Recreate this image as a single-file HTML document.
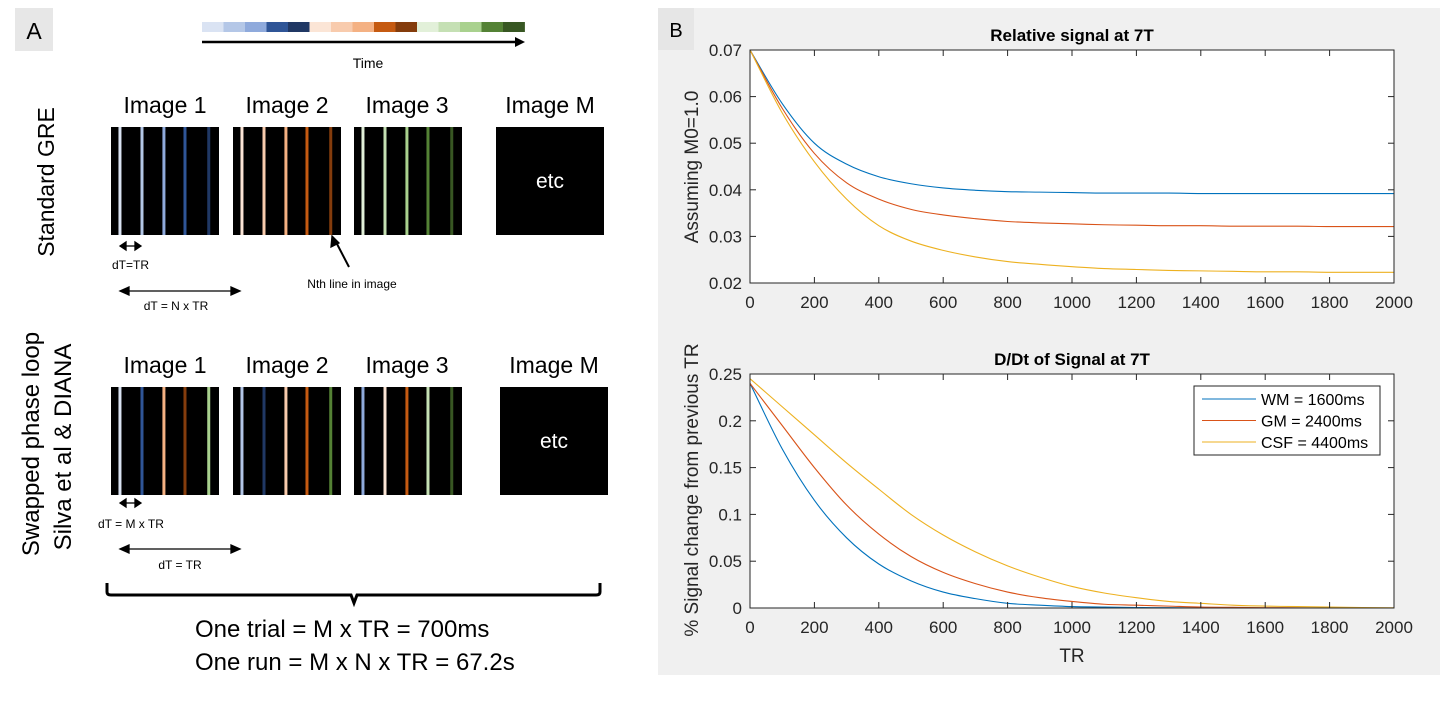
<!DOCTYPE html>
<html><head><meta charset="utf-8">
<style>
html,body{margin:0;padding:0;background:#fff;width:1440px;height:706px;overflow:hidden}
svg{display:block}
.cal,.hv{font-family:"Liberation Sans",sans-serif}
</style></head>
<body>
<svg id="root" width="1440" height="706" viewBox="0 0 1440 706" xmlns="http://www.w3.org/2000/svg">
<g id="panelA" class="cal">
  <rect x="15" y="8" width="38" height="43" fill="#e7e7e7"/>
  <text x="34" y="39" font-size="23" text-anchor="middle">A</text>
  <g id="colorbar"></g>
  <line x1="202" y1="42" x2="517" y2="42" stroke="#000" stroke-width="2.5"/>
  <polygon points="525,42 515,37 515,47" fill="#000"/>
  <text x="368" y="68" font-size="14" text-anchor="middle">Time</text>

  <text transform="translate(54,182) rotate(-90)" font-size="23" text-anchor="middle">Standard GRE</text>
  <text transform="translate(39,444) rotate(-90)" font-size="24" text-anchor="middle">Swapped phase loop</text>
  <text transform="translate(71,447) rotate(-90)" font-size="24" text-anchor="middle">Silva et al &amp; DIANA</text>
  <g id="images"></g>

  <text x="165" y="113" font-size="23" text-anchor="middle">Image 1</text>
  <text x="287" y="113" font-size="23" text-anchor="middle">Image 2</text>
  <text x="407" y="113" font-size="23" text-anchor="middle">Image 3</text>
  <text x="550" y="113" font-size="23" text-anchor="middle">Image M</text>
  <text x="165" y="373" font-size="23" text-anchor="middle">Image 1</text>
  <text x="287" y="373" font-size="23" text-anchor="middle">Image 2</text>
  <text x="407" y="373" font-size="23" text-anchor="middle">Image 3</text>
  <text x="554" y="373" font-size="23" text-anchor="middle">Image M</text>

  <rect x="496" y="127" width="108" height="108" fill="#000"/>
  <text x="550" y="188" font-size="21" fill="#fff" text-anchor="middle">etc</text>
  <rect x="500" y="387" width="108" height="108" fill="#000"/>
  <text x="554" y="448" font-size="21" fill="#fff" text-anchor="middle">etc</text>

  <g stroke="#000" stroke-width="1.3" fill="#000">
    <line x1="124" y1="246" x2="137" y2="246"/><polygon points="120,246 126,242 126,250"/><polygon points="141,246 135,242 135,250"/>
    <line x1="127" y1="291" x2="233" y2="291"/><polygon points="120,291 129,287 129,295"/><polygon points="240,291 231,287 231,295"/>
    <line x1="349" y1="267" x2="336" y2="242" stroke-width="2"/><polygon points="332,236 331,247 339,243"/>
    <line x1="124" y1="503" x2="137" y2="503"/><polygon points="120,503 126,499 126,507"/><polygon points="141,503 135,499 135,507"/>
    <line x1="127" y1="549" x2="233" y2="549"/><polygon points="120,549 129,545 129,553"/><polygon points="240,549 231,545 231,553"/>
  </g>
  <text x="112" y="269" font-size="12">dT=TR</text>
  <text x="176" y="310" font-size="12" text-anchor="middle">dT = N x TR</text>
  <text x="352" y="288" font-size="12" text-anchor="middle">Nth line in image</text>
  <text x="98" y="528" font-size="12">dT = M x TR</text>
  <text x="180" y="569" font-size="12" text-anchor="middle">dT = TR</text>

  <path d="M107,583 L107,592 Q107,595 111,595 L351,595 L354,603 L357,595 L596,595 Q600,595 600,592 L600,583" fill="none" stroke="#000" stroke-width="3"/>
  <text x="195" y="637" font-size="24">One trial = M x TR = 700ms</text>
  <text x="195" y="670" font-size="24">One run = M x N x TR = 67.2s</text>
</g>

<g id="panelB" class="hv">
  <rect x="658" y="8" width="782" height="667" fill="#f0f0f0"/>
  <rect x="658" y="8" width="36" height="42" fill="#e6e6e6"/>
  <text x="676" y="37" font-size="20" text-anchor="middle">B</text>
  <g id="chart1"></g>
  <g id="chart2"></g>
</g>
</svg>
<script>
// ---- chart data ----
const trValues = [0,100,200,300,400,500,600,700,800,900,1000,1100,1200,1300,1400,1500,1600,1700,1800,1900,2000];
const sigWM  = [0.0700,0.0585,0.0500,0.0455,0.0428,0.0413,0.0404,0.0399,0.0396,0.0395,0.0394,0.0393,0.0393,0.0393,0.0392,0.0392,0.0392,0.0392,0.0392,0.0392,0.0392];
const sigGM  = [0.0700,0.0575,0.0478,0.0415,0.0380,0.0358,0.0346,0.0338,0.0332,0.0329,0.0327,0.0325,0.0324,0.0323,0.0323,0.0322,0.0322,0.0322,0.0321,0.0321,0.0321];
const sigCSF = [0.0700,0.0565,0.0460,0.0380,0.0323,0.0290,0.0270,0.0256,0.0246,0.0240,0.0235,0.0231,0.0229,0.0227,0.0226,0.0225,0.0224,0.0224,0.0223,0.0223,0.0223];
const dWM  = [0.240,0.170,0.115,0.075,0.047,0.029,0.017,0.010,0.005,0.003,0.0015,0.001,0.0005,0.0003,0.0002,0.0001,0,0,0,0,0];
const dGM  = [0.240,0.195,0.150,0.110,0.079,0.055,0.038,0.026,0.017,0.011,0.007,0.004,0.003,0.002,0.001,0.0007,0.0004,0.0002,0.0001,0,0];
const dCSF = [0.245,0.215,0.185,0.155,0.127,0.100,0.078,0.060,0.045,0.033,0.023,0.016,0.011,0.007,0.005,0.003,0.002,0.0015,0.001,0.0005,0.0002];
const xTicks = [0,200,400,600,800,1000,1200,1400,1600,1800,2000];
const yTicks1 = [0.02,0.03,0.04,0.05,0.06,0.07];
const yTicks2 = [0,0.05,0.1,0.15,0.2,0.25];
const yTickLabels1 = ["0.02","0.03","0.04","0.05","0.06","0.07"];
const yTickLabels2 = ["0","0.05","0.1","0.15","0.2","0.25"];
const seriesNames = ["WM = 1600ms","GM = 2400ms","CSF = 4400ms"];
const seriesColors = ["#0072bd","#d95319","#edb120"];

const NS="http://www.w3.org/2000/svg";
function mk(tag, attrs, parent){const e=document.createElementNS(NS,tag);for(const k in attrs)e.setAttribute(k,attrs[k]);parent.appendChild(e);return e;}

function monotonePath(xs, ys){
  const n=xs.length, d=[], m=[];
  for(let i=0;i<n-1;i++) d.push((ys[i+1]-ys[i])/(xs[i+1]-xs[i]));
  m[0]=d[0]; m[n-1]=d[n-2];
  for(let i=1;i<n-1;i++){ m[i]=(d[i-1]*d[i]<=0)?0:(d[i-1]+d[i])/2; }
  for(let i=0;i<n-1;i++){
    if(d[i]===0){m[i]=0;m[i+1]=0;continue;}
    const a=m[i]/d[i], b=m[i+1]/d[i], s=a*a+b*b;
    if(s>9){const t=3/Math.sqrt(s);m[i]=t*a*d[i];m[i+1]=t*b*d[i];}
  }
  let p='M'+xs[0].toFixed(2)+','+ys[0].toFixed(2);
  for(let i=0;i<n-1;i++){
    const h=(xs[i+1]-xs[i])/3;
    p+='C'+(xs[i]+h).toFixed(2)+','+(ys[i]+m[i]*h).toFixed(2)+' '+(xs[i+1]-h).toFixed(2)+','+(ys[i+1]-m[i+1]*h).toFixed(2)+' '+xs[i+1].toFixed(2)+','+ys[i+1].toFixed(2);
  }
  return p;
}

function chart(g, box, ymin, ymax, yt, ytl, series, title, ylabel, ylabelY, xlabel, legend){
  const L=box[0],T=box[1],R=box[2],B=box[3];
  const sx=v=>L+(v-0)/(2000-0)*(R-L);
  const sy=v=>B-(v-ymin)/(ymax-ymin)*(B-T);
  const bg=mk('rect',{x:L,y:T,width:R-L,height:B-T,fill:'#fff'},g);
  
  
  series.forEach((s,i)=>{
    const xs=trValues.map(sx), ys=s.map(sy);
    const p=mk('path',{d:monotonePath(xs,ys),fill:'none',stroke:seriesColors[i],'stroke-width':1.1},g);
    
    
  });
  mk('rect',{x:L,y:T,width:R-L,height:B-T,fill:'none',stroke:'#262626','stroke-width':1},g);
  xTicks.forEach(v=>{
    const x=sx(v);
    mk('line',{x1:x,y1:B,x2:x,y2:B-6,stroke:'#262626'},g);
    mk('line',{x1:x,y1:T,x2:x,y2:T+6,stroke:'#262626'},g);
    const t=mk('text',{x:x,y:B+25,'font-size':17,'text-anchor':'middle',fill:'#262626'},g);
    t.textContent=v;
    
    
  });
  yt.forEach((v,i)=>{
    const y=sy(v);
    mk('line',{x1:L,y1:y,x2:L+6,y2:y,stroke:'#262626'},g);
    mk('line',{x1:R,y1:y,x2:R-6,y2:y,stroke:'#262626'},g);
    const t=mk('text',{x:L-8,y:y+6,'font-size':17,'text-anchor':'end',fill:'#262626'},g);
    t.textContent=ytl[i];
    
    
  });
  const tt=mk('text',{x:(L+R)/2,y:T-9,'font-size':17,'font-weight':'bold','text-anchor':'middle'},g);
  tt.textContent=title;
  
  
  const yl=mk('text',{transform:'translate(698,'+ylabelY+') rotate(-90)','font-size':19,'text-anchor':'middle',fill:'#262626'},g);
  yl.textContent=ylabel;
  
  
  if(xlabel){
    const xl=mk('text',{x:(L+R)/2,y:B+54,'font-size':19,'text-anchor':'middle',fill:'#262626'},g);
    xl.textContent=xlabel;
    
    
  }
  if(legend){
    const lg=mk('g',{},g);
    
    
    mk('rect',{x:1194,y:386,width:186,height:69,fill:'#fff',stroke:'#262626','stroke-width':1},lg);
    seriesNames.forEach((n,i)=>{
      const y=399+i*21.5;
      const e=mk('g',{},lg);
      
      
      mk('line',{x1:1202,y1:y,x2:1256,y2:y,stroke:seriesColors[i],'stroke-width':1.1},e);
      const t=mk('text',{x:1261,y:y+6,'font-size':16,fill:'#000'},e);
      t.textContent=n;
    });
  }
}
chart(document.getElementById('chart1'),[750,50,1394,283],0.02,0.07,yTicks1,yTickLabels1,[sigWM,sigGM,sigCSF],'Relative signal at 7T','Assuming M0=1.0',167,null,false);
chart(document.getElementById('chart2'),[750,374,1394,608],0,0.25,yTicks2,yTickLabels2,[dWM,dGM,dCSF],'D/Dt of Signal at 7T','% Signal change from previous TR',490,'TR',true);

// ---- diagram ----
const barColors=["#dae3f3","#b4c7e7","#8faadc","#2f5597","#203864","#fbe5d6","#f8cbad","#f4b183","#c55a11","#843c0c","#e2f0d9","#c5e0b4","#a9d18e","#548235","#385723"];
const cb=document.getElementById('colorbar');
barColors.forEach((c,i)=>{
  const r=mk('rect',{x:202+i*21.5,y:22,width:21.9,height:10,fill:c},cb);
  
  
});
const row1=[[0,1,2,3,4],[5,6,7,8,9],[10,11,12,13,14]];
const row2=[[0,3,7,9,12],[1,4,6,8,13],[2,5,8,11,14]];
const imgX=[111,233,354];
const lineFr=[0.083,0.287,0.49,0.685,0.905];
const ig=document.getElementById('images');
[[row1,127],[row2,387]].forEach(([rows,y0])=>{
  rows.forEach((cols,k)=>{
    const r=mk('rect',{x:imgX[k],y:y0,width:108,height:108,fill:'#000'},ig);
    
    
    cols.forEach((ci,j)=>{
      const l=mk('rect',{x:imgX[k]+lineFr[j]*108-1.5,y:y0,width:3,height:108,fill:barColors[ci]},ig);
      
      
    });
  });
});
</script>
</body></html>
